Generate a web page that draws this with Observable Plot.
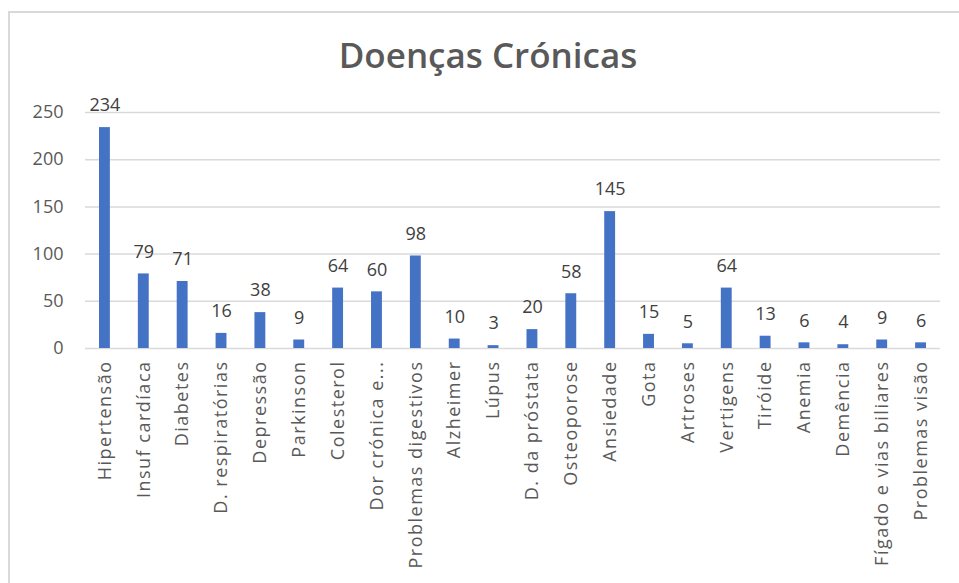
<!DOCTYPE html>
<html>
<head>
<meta charset="utf-8">
<script src="https://cdn.jsdelivr.net/npm/d3@7"></script>
<script src="https://cdn.jsdelivr.net/npm/@observablehq/plot@0.6"></script>
<style>
  html, body { margin: 0; padding: 0; background: #fff; }
  #wrap { position: relative; width: 959px; height: 583px; overflow: hidden; }
  #frame { position: absolute; left: 8px; top: 11px; width: 960px; height: 580px;
           border-left: 2px solid #d9d9d9; border-top: 2px solid #d9d9d9; }
  #title { position: absolute; left: 0; width: 976px; top: 37px; text-align: center; line-height: 1;
           font-family: "Open Sans", sans-serif; font-weight: 600; font-size: 35px; color: #595959; }
  #chart { position: absolute; left: 0; top: 0; }
</style>
</head>
<body>
<div id="wrap">
  <div id="frame"></div>
  <div id="title">Doenças Crónicas</div>
  <div id="chart"></div>
</div>
<script>
const categories = ["Hipertensão", "Insuf cardíaca", "Diabetes", "D. respiratórias", "Depressão",
  "Parkinson", "Colesterol", "Dor crónica e...", "Problemas digestivos", "Alzheimer", "Lúpus",
  "D. da próstata", "Osteoporose", "Ansiedade", "Gota", "Artroses", "Vertigens", "Tiróide",
  "Anemia", "Demência", "Fígado e vias biliares", "Problemas visão"];
const values = [234, 79, 71, 16, 38, 9, 64, 60, 98, 10, 3, 20, 58, 145, 15, 5, 64, 13, 6, 4, 9, 6];
const yTicks = [0, 50, 100, 150, 200, 250];

const data = categories.map((c, i) => ({ cat: c, val: values[i] }));

const chart = Plot.plot({
  width: 959,
  height: 583,
  marginLeft: 85,
  marginRight: 19,
  marginTop: 112,
  marginBottom: 235,
  style: { fontFamily: "'Open Sans', sans-serif", fontSize: "18px", background: "transparent", color: "#595959" },
  x: { domain: categories, paddingInner: 0.72, paddingOuter: 0.36, round: false, label: null },
  y: { domain: [0, 250], label: null },
  marks: [
    Plot.ruleY(yTicks, { stroke: "#d9d9d9", strokeWidth: 1.5 }),
    Plot.barY(data, { x: "cat", y: "val", fill: "#4472C4" }),
    Plot.text(data, { x: "cat", y: "val", text: d => String(d.val), dy: -22,
      fontSize: 18, fill: "#404040" }),
    Plot.axisY({ ticks: yTicks, tickSize: 0, tickPadding: 22, fontSize: 18, label: null }),
    Plot.axisX({ tickSize: 0, tickPadding: 12, tickRotate: -90, fontSize: 18, label: null })
  ]
});
d3.select(chart).selectAll("g[aria-label='x-axis tick label'] text").style("letter-spacing", "1.5px");
document.getElementById("chart").appendChild(chart);
</script>
</body>
</html>
